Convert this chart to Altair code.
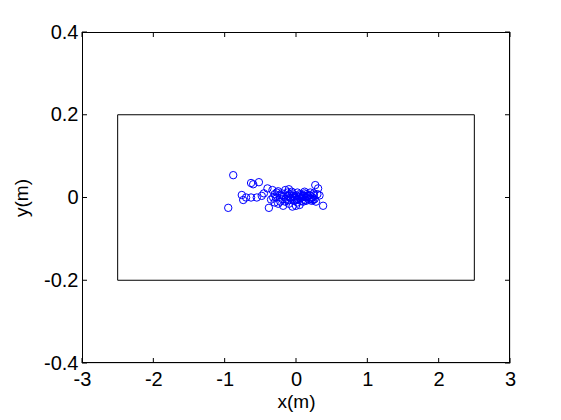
import altair as alt
import pandas as pd

# scatter points (m)
px = [-0.88, -0.95, -0.63, -0.52, -0.60, -0.76, -0.74, -0.70, -0.63, -0.55,
      -0.38, -0.40, -0.33, -0.45, -0.48, -0.30, -0.35, -0.28, -0.25, -0.22,
      -0.20, -0.18, -0.15, -0.12, -0.10, -0.08, -0.05, -0.03, 0.00, 0.02,
      0.05, 0.08, 0.10, 0.12, 0.15, 0.18, 0.20, 0.22, 0.25, 0.27,
      0.31, 0.38, 0.33, 0.28, -0.10, 0.00, -0.05, 0.05, -0.15, -0.20,
      -0.25, -0.30, 0.10, 0.15, 0.20, 0.25, -0.12, -0.02, 0.03, 0.07,
      0.13, 0.17, 0.23, -0.17, -0.07, 0.01, 0.09, -0.27, -0.32, 0.30,
      -0.14, -0.04, 0.06, 0.11, 0.19, 0.24, -0.09, -0.01, 0.04, 0.14,
      -0.23, -0.19, 0.16, 0.21, 0.26, -0.11, 0.08, -0.06, 0.12, 0.02]
py = [0.054, -0.025, 0.035, 0.037, 0.032, 0.006, -0.006, 0.000, 0.000, 0.000,
      -0.025, 0.022, 0.018, 0.010, 0.004, 0.008, -0.005, 0.000, 0.015, -0.010,
      0.005, -0.020, 0.018, 0.012, -0.015, 0.000, 0.010, -0.008, 0.005, -0.012,
      0.008, 0.000, -0.010, 0.010, 0.000, -0.005, 0.012, -0.008, 0.005, 0.030,
      0.022, -0.020, 0.005, -0.010, 0.020, -0.020, -0.022, -0.018, -0.010, 0.010,
      -0.015, -0.012, 0.005, 0.008, -0.002, 0.010, 0.004, 0.002, -0.004, 0.006,
      -0.006, 0.003, 0.000, 0.002, -0.003, -0.006, 0.004, 0.012, 0.000, 0.008,
      -0.004, 0.004, -0.002, 0.003, 0.006, -0.006, 0.008, 0.000, 0.002, -0.008,
      0.006, -0.004, 0.004, -0.003, -0.004, -0.006, -0.008, 0.014, 0.014, 0.012]

# rectangle outline
rect_x = [-2.5, 2.5, 2.5, -2.5, -2.5]
rect_y = [-0.2, -0.2, 0.2, 0.2, -0.2]

x_ticks = [-3, -2, -1, 0, 1, 2, 3]
y_ticks = [-0.4, -0.2, 0, 0.2, 0.4]

W, H = 428, 331
FONT = "Liberation Sans"

pts = pd.DataFrame({"x": px, "y": py})
rect = pd.DataFrame({"x": rect_x, "y": rect_y, "o": list(range(len(rect_x)))})
xt = pd.DataFrame({"t": x_ticks})
yt = pd.DataFrame({"t": y_ticks})

xs = alt.Scale(domain=[-3, 3], nice=False, zero=False)
ys = alt.Scale(domain=[-0.4, 0.4], nice=False, zero=False)

xaxis = alt.Axis(values=x_ticks, title="x(m)", grid=False, domain=False, ticks=False,
                 labelFontSize=20, titleFontSize=19, labelPadding=6, titlePadding=3,
                 labelFont=FONT, titleFont=FONT, labelColor="black", titleColor="black",
                 titleFontWeight="normal", labelFlush=False,
                 labelExpr="'' + datum.value")
yaxis = alt.Axis(values=y_ticks, title="y(m)", grid=False, domain=False, ticks=False,
                 labelFontSize=20, titleFontSize=19, labelPadding=4, titlePadding=12,
                 labelFont=FONT, titleFont=FONT, labelColor="black", titleColor="black",
                 titleFontWeight="normal", labelFlush=False,
                 labelExpr="'' + datum.value")

scatter = alt.Chart(pts).mark_point(shape="circle", filled=False, color="#0000ff",
                                    size=55, strokeWidth=1, opacity=1).encode(
    x=alt.X("x:Q", scale=xs, axis=xaxis),
    y=alt.Y("y:Q", scale=ys, axis=yaxis),
)

box = alt.Chart(rect).mark_line(color="black", strokeWidth=1).encode(
    x=alt.X("x:Q", scale=xs, axis=xaxis),
    y=alt.Y("y:Q", scale=ys, axis=yaxis),
    order="o:Q",
)

frame = alt.Chart(xt).mark_rect(fill=None, filled=False, stroke="black", strokeWidth=1).encode(
    x=alt.value(0.5), x2=alt.value(W - 0.5), y=alt.value(0.5), y2=alt.value(H - 0.5))

TL = 5
xt_bottom = alt.Chart(xt).mark_rule(color="black", strokeWidth=1).encode(
    x=alt.X("t:Q", scale=xs, axis=xaxis), y=alt.value(H), y2=alt.value(H - TL))
xt_top = alt.Chart(xt).mark_rule(color="black", strokeWidth=1).encode(
    x=alt.X("t:Q", scale=xs, axis=xaxis), y=alt.value(0), y2=alt.value(TL))
yt_left = alt.Chart(yt).mark_rule(color="black", strokeWidth=1).encode(
    y=alt.Y("t:Q", scale=ys, axis=yaxis), x=alt.value(0), x2=alt.value(TL))
yt_right = alt.Chart(yt).mark_rule(color="black", strokeWidth=1).encode(
    y=alt.Y("t:Q", scale=ys, axis=yaxis), x=alt.value(W), x2=alt.value(W - TL))

chart = alt.layer(scatter, box, frame, xt_bottom, xt_top, yt_left, yt_right).properties(
    width=W, height=H,
    autosize=alt.AutoSizeParams(type="none"),
    padding={"left": 74, "top": 24, "right": 40, "bottom": 50},
).configure_view(stroke=None).configure(background="white")

chart.save("out.html", embed_options={"renderer": "svg", "actions": False})
